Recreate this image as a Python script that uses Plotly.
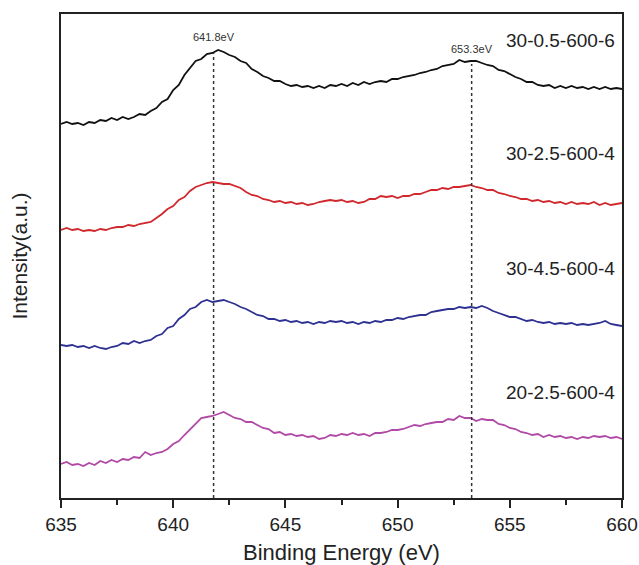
import numpy as np
import plotly.graph_objects as go

# Binding energy grid (eV)
energy = np.linspace(635, 660, 101)

# Intensities (a.u., stacked with vertical offsets as in the figure)
s_30_05_600_6 = [374,376,374,375,373,376,375,378,377,380,
                 378,381,379,381,384,383,387,390,396,399,
                 408,413,423,430,437,439,444,445,448,446,
                 443,441,437,435,429,426,422,420,417,417,
                 414,412,413,411,412,410,412,410,413,412,
                 414,412,415,413,416,414,416,417,416,419,
                 419,421,422,423,425,426,428,429,432,433,
                 434,438,436,437,437,435,433,432,428,427,
                 424,421,419,416,416,413,412,413,410,412,
                 410,412,410,411,409,411,409,411,409,410,409]

s_30_25_600_4 = [268,270,268,269,267,268,267,269,268,270,
                 271,271,273,272,274,275,276,280,284,289,
                 292,298,301,307,311,313,315,316,315,314,
                 314,312,310,306,303,302,299,298,296,297,
                 295,296,294,295,293,294,296,297,298,297,
                 298,296,297,295,296,299,299,302,301,302,
                 300,302,302,304,304,306,308,308,310,309,
                 311,311,312,313,311,310,308,308,305,304,
                 302,301,299,299,297,298,296,297,295,296,
                 294,296,294,295,294,296,293,295,293,294,295]

s_30_45_600_4 = [153,152,153,151,152,150,152,150,149,151,
                 152,155,154,157,155,157,158,162,164,170,
                 172,179,183,189,191,196,198,196,197,198,
                 196,194,191,189,186,183,182,179,179,177,
                 178,176,177,175,176,174,176,175,177,176,
                 177,175,176,174,176,175,177,176,178,178,
                 180,179,181,182,183,183,186,187,188,189,
                 189,191,190,191,190,192,190,187,185,183,
                 181,181,179,177,178,176,175,176,174,175,
                 174,175,173,174,173,174,175,177,174,173,172]

s_20_25_600_4 = [34,36,33,34,32,35,33,37,35,38,
                 36,39,38,41,40,46,43,45,46,49,
                 54,57,63,69,74,80,81,82,84,86,
                 83,80,79,76,76,73,70,69,65,66,
                 63,64,62,63,61,62,59,60,63,62,
                 64,63,65,63,64,62,65,65,66,68,
                 68,69,71,73,72,74,75,76,76,79,
                 78,82,80,80,77,79,78,78,74,73,
                 70,69,66,65,63,64,61,63,61,62,
                 60,61,59,61,60,62,61,62,60,61,59]

series_names = ["30-0.5-600-6", "30-2.5-600-4", "30-4.5-600-4", "20-2.5-600-4"]
series_values = [s_30_05_600_6, s_30_25_600_4, s_30_45_600_4, s_20_25_600_4]
series_colors = ["#111111", "#d0282c", "#2e3192", "#b04aa6"]
label_y = [458, 345, 230, 106]

# Peak markers
peak_energy = [641.8, 653.3]
peak_top = [445, 434]
peak_text = ["641.8eV", "653.3eV"]
peak_text_y = [461, 449]

FONT = "Liberation Sans, Arial, sans-serif"

fig = go.Figure()
for name, vals, col in zip(series_names, series_values, series_colors):
    fig.add_trace(go.Scatter(x=energy, y=vals, mode="lines", name=name,
                             line=dict(color=col, width=1.8), showlegend=False))

for pe, pt in zip(peak_energy, peak_top):
    fig.add_shape(type="line", x0=pe, x1=pe, y0=0, y1=pt, xref="x", yref="y",
                  line=dict(color="#333333", width=1.5, dash="dot"))

for pe, txt, ty in zip(peak_energy, peak_text, peak_text_y):
    fig.add_annotation(x=pe, y=ty, text=txt, showarrow=False, xref="x", yref="y",
                       font=dict(family=FONT, size=11, color="#333333"))

for name, ly in zip(series_names, label_y):
    fig.add_annotation(x=0.991, y=ly, xref="paper", yref="y", text=name,
                       showarrow=False, xanchor="right",
                       font=dict(family=FONT, size=19, color="#222222"))

fig.update_layout(
    width=639, height=565,
    margin=dict(l=61, r=17, t=14, b=67),
    paper_bgcolor="white", plot_bgcolor="white",
    font=dict(family=FONT, color="#222222"),
)
fig.update_xaxes(
    automargin=False,
    range=[635, 660], tickvals=[635, 640, 645, 650, 655, 660],
    ticks="outside", ticklen=8, tickwidth=1.5, tickcolor="#222222",
    minor=dict(tickvals=[637.5, 642.5, 647.5, 652.5, 657.5], ticks="outside",
               ticklen=5, tickwidth=1.5, tickcolor="#222222"),
    showline=True, linecolor="#222222", linewidth=1.8, mirror=True,
    showgrid=False, zeroline=False,
    tickfont=dict(family=FONT, size=19, color="#222222"),
    title=dict(text="Binding Energy (eV)", font=dict(family=FONT, size=22, color="#222222"),
               standoff=14),
)
fig.update_yaxes(
    automargin=False,
    range=[0, 484], showticklabels=False, ticks="",
    showline=True, linecolor="#222222", linewidth=1.8, mirror=True,
    showgrid=False, zeroline=False,
    title=dict(text="Intensity(a.u.)", font=dict(family=FONT, size=21, color="#222222"),
               standoff=26),
)

fig.write_html("out.html")
